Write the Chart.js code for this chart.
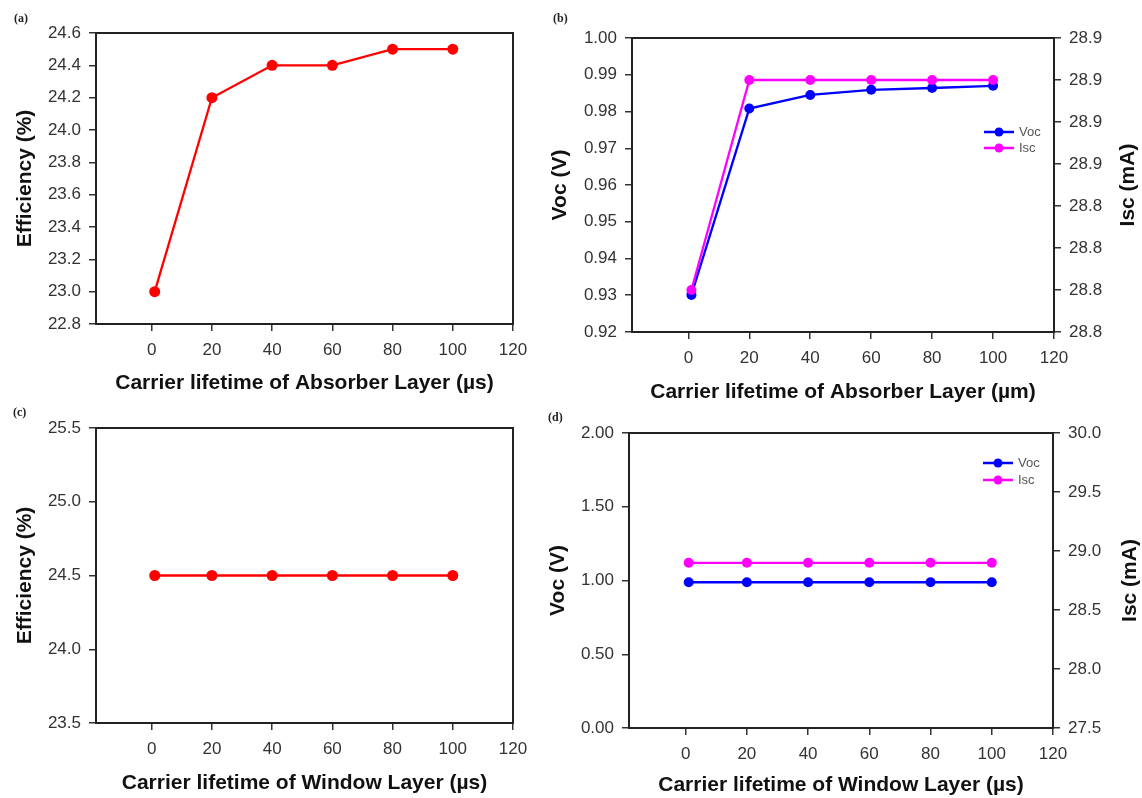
<!DOCTYPE html>
<html><head><meta charset="utf-8">
<script src="https://cdn.jsdelivr.net/npm/chart.js@4.4.1/dist/chart.umd.min.js"></script>
<style>
html,body{margin:0;padding:0;background:#fff;width:1142px;height:798px;overflow:hidden;position:relative;}
canvas{position:absolute;}
.lbl{position:absolute;font:bold 12px "Liberation Serif",serif;color:#222;line-height:12px;}
</style></head><body>
<canvas id="ca" width="570" height="400" style="left:0;top:0"></canvas>
<canvas id="cb" width="602" height="405" style="left:540px;top:0"></canvas>
<canvas id="cc" width="570" height="398" style="left:0;top:400px"></canvas>
<canvas id="cd" width="602" height="398" style="left:540px;top:400px"></canvas>
<div class="lbl" style="left:14px;top:12px">(a)</div>
<div class="lbl" style="left:553px;top:12px">(b)</div>
<div class="lbl" style="left:13px;top:406px">(c)</div>
<div class="lbl" style="left:548px;top:411px">(d)</div>
<script>
// ---- data ----
const lifetimeX = [1, 20, 40, 60, 80, 100];
const xTicks = [0, 20, 40, 60, 80, 100, 120];

const effAbsorber = [23.0, 24.2, 24.4, 24.4, 24.5, 24.5];
const vocAbsorber = [0.9301, 0.9808, 0.9845, 0.9859, 0.9864, 0.9870];
const iscAbsorber = [28.80, 28.90, 28.90, 28.90, 28.90, 28.90];

const effWindow = [24.5, 24.5, 24.5, 24.5, 24.5, 24.5];
const vocWindow = [0.988, 0.988, 0.988, 0.988, 0.988, 0.988];
const iscWindow = [28.90, 28.90, 28.90, 28.90, 28.90, 28.90];

const effTicksA = [22.8, 23.0, 23.2, 23.4, 23.6, 23.8, 24.0, 24.2, 24.4, 24.6];
const vocTicksB = [0.92, 0.93, 0.94, 0.95, 0.96, 0.97, 0.98, 0.99, 1.00];
const iscTicksB = [28.78, 28.80, 28.82, 28.84, 28.86, 28.88, 28.90, 28.92];
const effTicksC = [23.5, 24.0, 24.5, 25.0, 25.5];
const vocTicksD = [0.00, 0.50, 1.00, 1.50, 2.00];
const iscTicksD = [27.5, 28.0, 28.5, 29.0, 29.5, 30.0];

const titleX_absorber_a = 'Carrier lifetime of Absorber Layer (µs)';
const titleX_absorber_b = 'Carrier lifetime of Absorber Layer (µm)';
const titleX_window = 'Carrier lifetime of Window Layer (µs)';

// ---- styling helpers ----
Chart.defaults.font.family = "'Liberation Sans', Arial, sans-serif";
Chart.defaults.animation = false;

const pts = (xs, ys) => xs.map((x, i) => ({x: x, y: ys[i]}));

function yScale(pos, ticks, dec, widthPx, title, padTop) {
  return {
    type: 'linear', position: pos, min: ticks[0], max: ticks[ticks.length - 1],
    afterBuildTicks: s => { s.ticks = ticks.map(v => ({value: v})); },
    afterFit: s => { s.width = widthPx; },
    ticks: {callback: v => Number(v).toFixed(dec), font: {size: 17}, color: '#333', padding: 8, autoSkip: false},
    grid: {drawOnChartArea: false, drawTicks: true, tickLength: 7, color: '#333', lineWidth: 1.5},
    border: {display: true, color: '#222', width: 2},
    title: title ? {display: true, text: title, font: {size: 21, weight: 'bold'}, color: '#111', padding: {top: padTop, bottom: 0}} : {display: false}
  };
}
function xScale(heightPx, title, padBottom) {
  return {
    type: 'linear', position: 'bottom', min: -18.5, max: 120,
    afterBuildTicks: s => { s.ticks = xTicks.map(v => ({value: v})); },
    afterFit: s => { s.height = heightPx; },
    ticks: {font: {size: 17}, color: '#333', padding: 9, maxRotation: 0, autoSkip: false},
    grid: {drawOnChartArea: false, drawTicks: true, tickLength: 7, color: '#333', lineWidth: 1.5},
    border: {display: true, color: '#222', width: 2},
    title: {display: true, text: title, font: {size: 21, weight: 'bold'}, color: '#111', padding: {top: 0, bottom: padBottom}}
  };
}

const framePlugin = {
  id: 'frame',
  beforeDatasetsDraw(chart) {
    const a = chart.chartArea, c = chart.ctx;
    c.save(); c.strokeStyle = '#222'; c.lineWidth = 2;
    c.strokeRect(a.left, a.top, a.right - a.left, a.bottom - a.top);
    c.restore();
  }
};
const rightTitlePlugin = {
  id: 'rightTitle',
  afterDraw(chart, args, opts) {
    if (!opts || !opts.text) return;
    const a = chart.chartArea, c = chart.ctx;
    c.save();
    c.translate(chart.width - opts.offset, (a.top + a.bottom) / 2);
    c.rotate(-Math.PI / 2);
    c.font = "bold 21px 'Liberation Sans', Arial, sans-serif";
    c.fillStyle = '#111'; c.textAlign = 'center'; c.textBaseline = 'middle';
    c.fillText(opts.text, 0, 0);
    c.restore();
  }
};
const miniLegendPlugin = {
  id: 'miniLegend',
  afterDraw(chart, args, opts) {
    if (!opts || !opts.show) return;
    const a = chart.chartArea, c = chart.ctx;
    chart.data.datasets.forEach((ds, i) => {
      const x0 = a.right - opts.dx, y = a.top + opts.dy + i * opts.gap;
      c.save();
      c.strokeStyle = ds.borderColor; c.lineWidth = 2.5;
      c.beginPath(); c.moveTo(x0, y); c.lineTo(x0 + 30, y); c.stroke();
      c.fillStyle = ds.borderColor;
      c.beginPath(); c.arc(x0 + 15, y, 4.5, 0, Math.PI * 2); c.fill();
      c.font = "13px 'Liberation Sans', Arial, sans-serif";
      c.fillStyle = '#555'; c.textAlign = 'left'; c.textBaseline = 'middle';
      c.fillText(ds.label, x0 + 35, y);
      c.restore();
    });
  }
};

function lineDs(label, data, color, yAxisID, order, r) {
  return {label: label, data: data, borderColor: color, backgroundColor: color,
    pointBackgroundColor: color, pointBorderColor: color, pointRadius: r, pointBorderWidth: 0,
    borderWidth: 2.3, tension: 0, yAxisID: yAxisID, order: order, clip: false};
}

const commonOpts = {responsive: false, maintainAspectRatio: false, animation: false, events: []};

// (a)
new Chart(document.getElementById('ca'), {
  type: 'line',
  data: {datasets: [lineDs('Efficiency', pts(lifetimeX, effAbsorber), '#ff0000', 'y', 0, 5.5)]},
  options: Object.assign({}, commonOpts, {
    layout: {padding: {top: 33, left: 0, right: 57, bottom: 0}},
    plugins: {legend: {display: false}, tooltip: {enabled: false}},
    scales: {x: xScale(76, titleX_absorber_a, 4), y: yScale('left', effTicksA, 1, 96, 'Efficiency (%)', 13)}
  }),
  plugins: [framePlugin]
});

// (b)
new Chart(document.getElementById('cb'), {
  type: 'line',
  data: {datasets: [
    lineDs('Voc', pts(lifetimeX, vocAbsorber), '#0000ff', 'y', 1, 5),
    lineDs('Isc', pts(lifetimeX, iscAbsorber), '#ff00ff', 'y2', 0, 5)
  ]},
  options: Object.assign({}, commonOpts, {
    layout: {padding: {top: 38, left: 0, right: 0, bottom: 0}},
    plugins: {legend: {display: false}, tooltip: {enabled: false},
      rightTitle: {text: 'Isc (mA)', offset: 14},
      miniLegend: {show: true, dx: 70, dy: 94, gap: 16}},
    scales: {
      x: xScale(73, titleX_absorber_b, 0),
      y: yScale('left', vocTicksB, 2, 92, 'Voc (V)', 8),
      y2: Object.assign(yScale('right', iscTicksB, 1, 88, null, 0), {grid: {drawOnChartArea: false, drawTicks: true, tickLength: 7, color: '#333', lineWidth: 1.5}})
    }
  }),
  plugins: [framePlugin, rightTitlePlugin, miniLegendPlugin]
});

// (c)
new Chart(document.getElementById('cc'), {
  type: 'line',
  data: {datasets: [lineDs('Efficiency', pts(lifetimeX, effWindow), '#ff0000', 'y', 0, 5.5)]},
  options: Object.assign({}, commonOpts, {
    layout: {padding: {top: 28, left: 0, right: 57, bottom: 0}},
    plugins: {legend: {display: false}, tooltip: {enabled: false}},
    scales: {x: xScale(75, titleX_window, 2), y: yScale('left', effTicksC, 1, 96, 'Efficiency (%)', 13)}
  }),
  plugins: [framePlugin]
});

// (d)
new Chart(document.getElementById('cd'), {
  type: 'line',
  data: {datasets: [
    lineDs('Voc', pts(lifetimeX, vocWindow), '#0000ff', 'y', 1, 5),
    lineDs('Isc', pts(lifetimeX, iscWindow), '#ff00ff', 'y2', 0, 5)
  ]},
  options: Object.assign({}, commonOpts, {
    layout: {padding: {top: 33, left: 0, right: 0, bottom: 0}},
    plugins: {legend: {display: false}, tooltip: {enabled: false},
      rightTitle: {text: 'Isc (mA)', offset: 12},
      miniLegend: {show: true, dx: 70, dy: 30, gap: 17}},
    scales: {
      x: xScale(70, titleX_window, 0),
      y: yScale('left', vocTicksD, 2, 89, 'Voc (V)', 6),
      y2: yScale('right', iscTicksD, 1, 89, null, 0)
    }
  }),
  plugins: [framePlugin, rightTitlePlugin, miniLegendPlugin]
});
</script>
</body></html>
